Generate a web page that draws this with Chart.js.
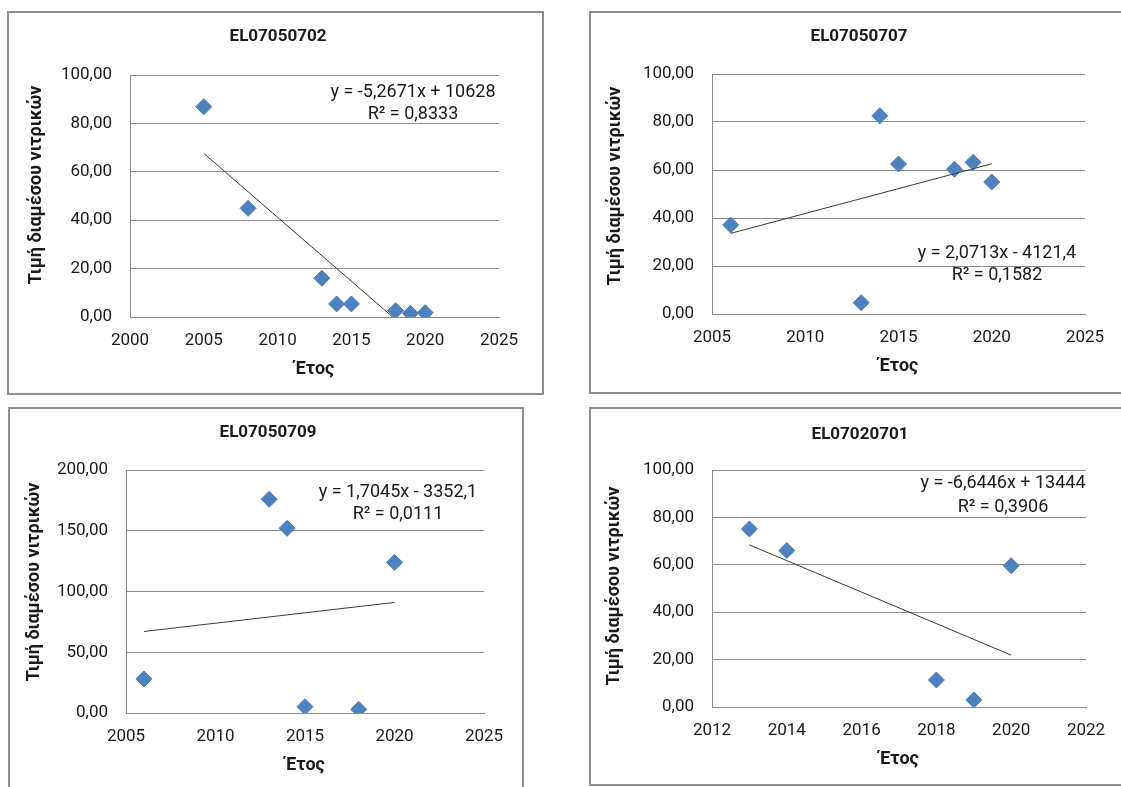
<!DOCTYPE html>
<html><head><meta charset="utf-8">
<script src="https://cdn.jsdelivr.net/npm/chart.js@4.4.1/dist/chart.umd.min.js"></script>
<style>
html,body{margin:0;padding:0;background:#fff;width:1121px;height:787px;overflow:hidden;position:relative;}
.box{position:absolute;box-sizing:border-box;border:2px solid #8e8e8e;}
canvas{position:absolute;}
</style></head><body>
<script>
// ---- data ----
const titles = ['EL07050702', 'EL07050707', 'EL07050709', 'EL07020701'];
const yAxisTitle = 'Τιμή διαμέσου νιτρικών';
const xAxisTitle = 'Έτος';

const years1 = [2005, 2008, 2013, 2014, 2015, 2018, 2019, 2020];
const nitrate1 = [86.9, 44.9, 16.0, 5.4, 5.4, 2.6, 1.5, 1.8];
const trendYears1 = [2005, 2017.8];
const trendValues1 = [67.6, 0.0];

const years2 = [2006, 2013, 2014, 2015, 2018, 2019, 2020];
const nitrate2 = [37.1, 4.7, 82.6, 62.5, 60.3, 63.2, 55.0];
const trendYears2 = [2006, 2020];
const trendValues2 = [33.6, 62.6];

const years3 = [2006, 2013, 2014, 2015, 2018, 2020];
const nitrate3 = [28.0, 175.9, 152.0, 5.2, 3.0, 124.0];
const trendYears3 = [2006, 2020];
const trendValues3 = [67.1, 91.0];

const years4 = [2013, 2014, 2018, 2019, 2020];
const nitrate4 = [75.1, 66.0, 11.4, 3.0, 59.6];
const trendYears4 = [2013, 2020];
const trendValues4 = [68.4, 21.9];

const equations = ['y = -5,2671x + 10628', 'y = 2,0713x - 4121,4', 'y = 1,7045x - 3352,1', 'y = -6,6446x + 13444'];
const rSquared = ['R² = 0,8333', 'R² = 0,1582', 'R² = 0,0111', 'R² = 0,3906'];

// tick settings (min, max, step)
const xTickMin = [2000, 2005, 2005, 2012];
const xTickMax = [2025, 2025, 2025, 2022];
const xTickStep = [5, 5, 5, 2];
const yTickMax = [100, 100, 200, 100];
const yTickStep = [20, 20, 50, 20];

// ---- layout (page pixels) ----
const layoutBoxes = [
  {box:{l:7,t:11,r:544,b:395}, plot:{l:130,r:499,t:75,b:317}, title:[278,37], eq:[413,92,22], yTitle:[36,185]},
  {box:{l:589,t:11,r:1123,b:394}, plot:{l:712,r:1085,t:74,b:314}, title:[859,37], eq:[997,253,22], yTitle:[615,186]},
  {box:{l:8,t:407,r:524,b:792}, plot:{l:126,r:484,t:470,b:713}, title:[268,433], eq:[398,492,22], yTitle:[34,582]},
  {box:{l:589,t:407,r:1123,b:786}, plot:{l:712,r:1086,t:470,b:707}, title:[860,435], eq:[1003,483,24], yTitle:[614,586]}
];

const allYears = [years1, years2, years3, years4];
const allValues = [nitrate1, nitrate2, nitrate3, nitrate4];
const allTrendX = [trendYears1, trendYears2, trendYears3, trendYears4];
const allTrendY = [trendValues1, trendValues2, trendValues3, trendValues4];

const FONT = 'Roboto';
const TXT = '#1a1a1a';
const GRID = '#8c8c8c';

const freeText = {
  id: 'freeText',
  afterDraw(chart, args, o) {
    const ctx = chart.ctx;
    ctx.save();
    ctx.fillStyle = TXT;
    ctx.textAlign = 'center';
    ctx.textBaseline = 'middle';
    ctx.font = 'bold 17px ' + FONT;
    ctx.fillText(o.title, o.titleX, o.titleY);
    ctx.font = '18px ' + FONT;
    ctx.fillText(o.eq, o.eqX, o.eqY);
    ctx.fillText(o.r2, o.eqX, o.eqY + o.gap);
    ctx.save();
    ctx.translate(o.yTitleX, o.yTitleY);
    ctx.rotate(-Math.PI / 2);
    ctx.font = 'bold 18px ' + FONT;
    ctx.fillText(o.yTitle, 0, 0);
    ctx.restore();
    ctx.restore();
  }
};

layoutBoxes.forEach((L, i) => {
  const {box, plot} = L;
  const W = box.r - box.l, H = box.b - box.t;
  const div = document.createElement('div');
  div.className = 'box';
  Object.assign(div.style, {left: box.l + 'px', top: box.t + 'px', width: W + 'px', height: H + 'px'});
  document.body.appendChild(div);
  const cv = document.createElement('canvas');
  cv.width = W; cv.height = H;
  Object.assign(cv.style, {left: box.l + 'px', top: box.t + 'px', width: W + 'px', height: H + 'px'});
  document.body.appendChild(cv);

  const xH = 64;
  const yW = plot.l - box.l;
  const lh = 18 * 1.2;
  const points = allYears[i].map((x, k) => ({x, y: allValues[i][k]}));
  const trend = allTrendX[i].map((x, k) => ({x, y: allTrendY[i][k]}));

  new Chart(cv, {
    type: 'scatter',
    data: {
      datasets: [
        {data: trend, showLine: true, borderColor: '#3a3a3a', borderWidth: 1, pointRadius: 0, order: 0},
        {data: points, pointStyle: 'rectRot', pointRadius: 8, pointHoverRadius: 8,
         backgroundColor: '#4F81BD', borderColor: '#4A7EBB', borderWidth: 1, order: 1}
      ]
    },
    options: {
      responsive: false,
      animation: false,
      events: [],
      layout: {padding: {left: 0, top: plot.t - box.t, right: box.r - plot.r, bottom: H - (plot.b - box.t) - xH}},
      plugins: {
        legend: {display: false},
        tooltip: {enabled: false},
        freeText: {
          title: titles[i], titleX: L.title[0] - box.l, titleY: L.title[1] - box.t,
          eq: equations[i], r2: rSquared[i], eqX: L.eq[0] - box.l, eqY: L.eq[1] - box.t, gap: L.eq[2],
          yTitle: yAxisTitle, yTitleX: L.yTitle[0] - box.l, yTitleY: L.yTitle[1] - box.t
        }
      },
      scales: {
        x: {
          type: 'linear', min: xTickMin[i], max: xTickMax[i],
          afterFit: s => { s.height = xH; },
          ticks: {stepSize: xTickStep[i], padding: 14, color: TXT, font: {family: FONT, size: 17},
                  callback: v => String(v), maxRotation: 0, autoSkip: false},
          grid: {display: false, drawTicks: false},
          border: {display: true, color: GRID, width: 1},
          title: {display: true, text: xAxisTitle, color: TXT, font: {family: FONT, size: 18, weight: 'bold'},
                  padding: {top: 0, bottom: 12 - lh / 2}}
        },
        y: {
          type: 'linear', min: 0, max: yTickMax[i],
          afterFit: s => { s.width = yW; },
          ticks: {stepSize: yTickStep[i], padding: 18, color: TXT, font: {family: FONT, size: 17},
                  callback: v => v.toFixed(2).replace('.', ',')},
          grid: {display: true, color: GRID, lineWidth: 1, drawTicks: false},
          border: {display: true, color: GRID, width: 1}
        }
      }
    },
    plugins: [freeText]
  });
});
</script>
</body></html>
